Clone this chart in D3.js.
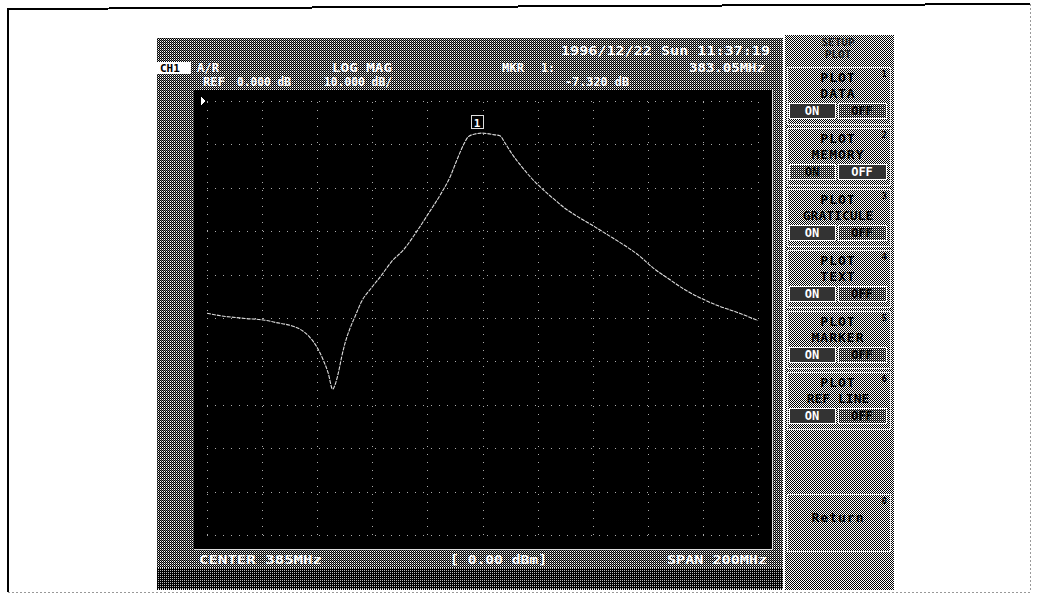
<!DOCTYPE html>
<html>
<head>
<meta charset="utf-8">
<script src="https://cdn.jsdelivr.net/npm/d3@7"></script>
<style>
  body { margin: 0; background: #fff; }
  svg { display: block; }
  text { font-family: "DejaVu Sans Mono", monospace; font-weight: bold; }
</style>
</head>
<body>
<svg id="chart"></svg>
<script>
// trace: frequency (MHz) and log magnitude (dB)
const freqMHz = [285, 289.1, 298.8, 306, 309.7, 315.7, 318.8, 322.4, 324.8, 327.2, 329, 330.6,
  331.7, 332.9, 333.9, 335.1, 336.9, 338.7, 341.1, 344.5, 348.5, 352, 356.3, 361.1, 365.4,
  369.6, 373.3, 375.7, 378.1, 379.9, 382.3, 384.5, 389.5, 391.3, 393.2, 395.6, 399.2, 402.8,
  407.1, 411.3, 414.9, 419.7, 425.8, 430.6, 435.4, 441.6, 447, 452.4, 458.5, 464.5, 470.6,
  476.6, 481.5, 485];
const magDb = [-48.9, -49.4, -50.1, -50.5, -51.0, -51.8, -52.6, -54.5, -56.6, -59.7, -62.7, -66.4,
  -65.0, -62.0, -58.9, -55.8, -52.4, -49.7, -46.2, -43.2, -40.0, -37.0, -34.3, -30.1, -25.9,
  -21.7, -17.4, -13.6, -10.1, -8.2, -7.6, -7.4, -7.8, -8.0, -9.7, -12.1, -15.1, -17.8,
  -20.5, -22.8, -24.7, -26.7, -29.0, -30.9, -32.8, -35.5, -38.5, -40.9, -43.5, -45.5, -47.2,
  -48.5, -49.7, -50.6];

const centerMHz = 385, spanMHz = 200;
const refDb = 0, dbPerDiv = 10, divisions = 10;
const markerMHz = 383.05, markerDb = -7.32;

const headerDate = "1996/12/22 Sun 11:37:19";
const headerRow2 = ["A/R", "LOG MAG", "MKR", "1:", "383.05MHz"];
const headerRow3 = ["REF", "0.000 dB", "10.000 dB/", "-7.320 dB"];
const footerTexts = ["CENTER 385MHz", "[ 0.00 dBm]", "SPAN 200MHz"];

const keyTitles = ["SETUP", "PLOT"];
const keyTop = ["PLOT", "PLOT", "PLOT", "PLOT", "PLOT", "PLOT", null, ""];
const keyLabels = ["DATA", "MEMORY", "GRATICULE", "TEXT", "MARKER", "REF LINE", null, "Return"];
const keyOn = [true, false, true, true, true, true, null, null];

const W = 1037, H = 612;
const svg = d3.select("#chart").attr("width", W).attr("height", H)
  .attr("shape-rendering", "crispEdges");

// dither patterns for the grey parts of the screen shot
const defs = svg.append("defs");
function dither(id, bg, dots) {
  const p = defs.append("pattern").attr("id", id).attr("patternUnits", "userSpaceOnUse")
    .attr("width", 2).attr("height", 2);
  p.append("rect").attr("width", 2).attr("height", 2).attr("fill", bg);
  dots.forEach(d => p.append("rect").attr("x", d[0]).attr("y", d[1]).attr("width", 1).attr("height", 1).attr("fill", d[2]));
}
dither("grey", "#fff", [[0, 0, "#000"], [1, 1, "#000"], [1, 0, "#777"]]);
dither("light", "#fff", [[0, 0, "#000"], [1, 1, "#000"]]);
dither("dark", "#000", [[0, 0, "#bbb"]]);

// page frame
svg.append("path").attr("d", "M8,592 L8,9 L1030,4").attr("fill", "none").attr("stroke", "#000").attr("stroke-width", 2);
svg.append("path").attr("d", "M1030,4 L1030,592 L8,592").attr("fill", "none").attr("stroke", "#999").attr("stroke-width", 1).attr("stroke-dasharray", "2,2");

// analyzer screen
svg.append("rect").attr("x", 157).attr("y", 38).attr("width", 627).attr("height", 552).attr("fill", "url(#grey)");
svg.append("rect").attr("x", 157).attr("y", 568).attr("width", 627).attr("height", 21).attr("fill", "url(#dark)");
svg.append("rect").attr("x", 194).attr("y", 90).attr("width", 578).attr("height", 459).attr("fill", "#000");
svg.append("path").attr("d", "M194,549.5 L772.5,549.5 L772.5,90").attr("fill", "none").attr("stroke", "#ddd");

// scales
const x = d3.scaleLinear().domain([centerMHz - spanMHz / 2, centerMHz + spanMHz / 2]).range([207, 758]);
const y = d3.scaleLinear().domain([refDb, refDb - dbPerDiv * divisions]).range([101, 535]);

// graticule
const grid = svg.append("g");
grid.append("g").attr("transform", "translate(0,535)")
  .call(d3.axisBottom(x).tickValues(d3.range(0, divisions + 1).map(i => x.domain()[0] + i * spanMHz / divisions))
    .tickSize(-434).tickFormat(""));
grid.append("g").attr("transform", "translate(207,0)")
  .call(d3.axisLeft(y).tickValues(d3.range(0, divisions + 1).map(i => refDb - i * dbPerDiv))
    .tickSize(-551).tickFormat(""));
grid.selectAll(".domain").remove();
grid.selectAll(".tick line").attr("stroke", "#aaa").attr("stroke-dasharray", "1,7");

// reference level arrow
svg.append("path").attr("d", `M201,${y(refDb) - 4} L206,${y(refDb)} L201,${y(refDb) + 4} Z`).attr("fill", "#fff");

// trace
const line = d3.line().x((d, i) => x(freqMHz[i])).y(d => y(d)).curve(d3.curveMonotoneX);
svg.append("path").datum(magDb).attr("d", line).attr("fill", "none")
  .attr("stroke", "#ddd").attr("stroke-width", 1.1).attr("stroke-dasharray", "4,1")
  .attr("shape-rendering", "auto");

// marker 1
const mx = x(markerMHz), my = y(markerDb);
svg.append("rect").attr("x", mx - 6).attr("y", my - 17).attr("width", 12).attr("height", 13)
  .attr("fill", "none").attr("stroke", "#ddd");
svg.append("text").attr("x", mx).attr("y", my - 6).attr("text-anchor", "middle")
  .attr("font-size", 11).attr("fill", "#fff").text("1");

// header and footer text, placed by character cell spans [x, width]
const hdr = svg.append("g").attr("font-size", 12).attr("fill", "#fff");
function put(str, px, w, py) {
  hdr.append("text").attr("x", px).attr("y", py).attr("textLength", w)
    .attr("lengthAdjust", "spacingAndGlyphs").text(str);
}
put(headerDate, 561, 209, 55);
const row2Pos = [[197, 22], [332, 60], [502, 22], [541, 14], [689, 76]];
const row3Pos = [[203, 22], [237, 54], [324, 68], [565, 64]];
const footPos = [[199, 123], [450, 97], [667, 100]];
headerRow2.forEach((t, i) => put(t, row2Pos[i][0], row2Pos[i][1], 72));
headerRow3.forEach((t, i) => put(t, row3Pos[i][0], row3Pos[i][1], 86));
footerTexts.forEach((t, i) => put(t, footPos[i][0], footPos[i][1], 564));
svg.append("rect").attr("x", 157).attr("y", 62).attr("width", 34).attr("height", 12).attr("fill", "#fff");
svg.append("text").attr("x", 160).attr("y", 72).attr("font-size", 11).attr("fill", "#000").text("CH1");

// soft key panel
const panel = svg.append("g");
panel.append("rect").attr("x", 784).attr("y", 35).attr("width", 110).attr("height", 555).attr("fill", "url(#light)");
panel.append("line").attr("x1", 783.5).attr("x2", 783.5).attr("y1", 35).attr("y2", 590).attr("stroke", "#fff").attr("stroke-width", 2);
keyTitles.forEach((t, i) => panel.append("text").attr("x", 838).attr("y", 46 + i * 12)
  .attr("text-anchor", "middle").attr("font-size", 11).attr("fill", "#222").text(t));

keyLabels.forEach((label, i) => {
  if (label === null) return;
  const top = 67 + i * 61;
  const on = keyOn[i];
  const g = panel.append("g");
  g.append("rect").attr("x", 787.5).attr("y", top + 0.5).attr("width", 103).attr("height", 57)
    .attr("fill", "none").attr("stroke", "#eee");
  g.append("text").attr("x", 887).attr("y", top + 10).attr("text-anchor", "end").attr("font-size", 9).attr("fill", "#000").text(i + 1);
  if (keyTop[i]) g.append("text").attr("x", 838).attr("y", top + 15).attr("text-anchor", "middle")
    .attr("font-size", 13).attr("letter-spacing", 1).attr("fill", "#000").text(keyTop[i]);
  g.append("text").attr("x", 838).attr("y", top + (on === null ? 28 : 31)).attr("text-anchor", "middle")
    .attr("font-size", 13).attr("letter-spacing", label.length > 7 ? 0 : 1).attr("fill", "#000").text(label);
  if (on === null) return;
  const boxes = [[789, 46, "ON", on], [838, 48, "OFF", !on]];
  boxes.forEach(([bx, bw, txt, sel]) => {
    g.append("rect").attr("x", bx).attr("y", top + 36).attr("width", bw).attr("height", 15)
      .attr("fill", sel ? "#333" : "url(#grey)").attr("stroke", "#fff");
    g.append("text").attr("x", bx + bw / 2).attr("y", top + 48).attr("text-anchor", "middle")
      .attr("font-size", 12).attr("fill", sel ? "#fff" : "#000").text(txt);
  });
});
</script>
</body>
</html>
